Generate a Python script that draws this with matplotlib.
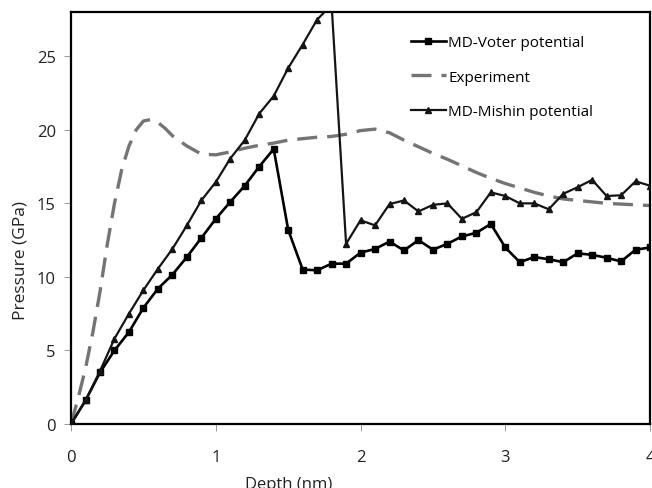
import numpy as np
import matplotlib
matplotlib.use('Agg')
import matplotlib.pyplot as plt

plt.rcParams['font.family'] = ['Open Sans', 'DejaVu Sans']

# MD-Voter potential (squares), every 0.1 nm
depth_md = np.round(np.arange(0, 4.01, 0.1), 2)
voter = [0.0, 1.6, 3.5, 5.0, 6.25, 7.9, 9.2, 10.15, 11.35, 12.65,
         13.95, 15.1, 16.2, 17.5, 18.7, 13.2, 10.5, 10.45, 10.9, 10.9,
         11.65, 11.9, 12.4, 11.8, 12.5, 11.85, 12.25, 12.75, 13.0, 13.6,
         12.0, 11.0, 11.35, 11.2, 11.0, 11.6, 11.5, 11.3, 11.05, 11.85,
         12.0]

# MD-Mishin potential (triangles)
mishin = [0.0, 1.6, 3.6, 5.8, 7.5, 9.1, 10.55, 11.9, 13.5, 15.2,
          16.45, 18.05, 19.3, 21.1, 22.3, 24.2, 25.8, 27.5, 28.5, 12.25,
          13.85, 13.5, 14.95, 15.2, 14.45, 14.9, 15.0, 13.95, 14.4, 15.75,
          15.5, 15.0, 15.0, 14.6, 15.65, 16.1, 16.6, 15.5, 15.55, 16.5,
          16.2]

# Experiment (dashed)
depth_exp = [0.0, 0.05, 0.1, 0.15, 0.2, 0.25, 0.3, 0.35, 0.4, 0.45,
             0.5, 0.55, 0.6, 0.65, 0.7, 0.8, 0.9, 1.0, 1.1, 1.2,
             1.3, 1.4, 1.5, 1.6, 1.7, 1.8, 1.9, 2.0, 2.1, 2.2,
             2.3, 2.4, 2.5, 2.6, 2.7, 2.8, 2.9, 3.0, 3.1, 3.2,
             3.3, 3.4, 3.5, 3.6, 3.7, 3.8, 3.9, 4.0]
experiment = [0.0, 1.8, 3.8, 6.2, 9.0, 12.2, 15.0, 17.3, 18.9, 20.0,
              20.6, 20.7, 20.5, 20.1, 19.6, 18.9, 18.35, 18.3, 18.5, 18.75,
              18.95, 19.1, 19.3, 19.4, 19.5, 19.55, 19.7, 19.95, 20.05, 19.8,
              19.3, 18.85, 18.4, 18.0, 17.55, 17.1, 16.7, 16.35, 16.05, 15.75,
              15.5, 15.3, 15.2, 15.1, 15.0, 14.95, 14.9, 14.85]

fig = plt.figure(figsize=(6.52, 4.89), dpi=100)
ax = fig.add_axes([0.109, 0.131, 0.888, 0.842])

ax.plot(depth_md, voter, color='black', lw=1.9, marker='s', ms=4.5,
        label='MD-Voter potential', zorder=3)
exp_line, = ax.plot(depth_exp, experiment, color='#747474', lw=2.4,
                    label='Experiment', zorder=2)
exp_line.set_dashes((6, 3))
ax.plot(depth_md, mishin, color='#151515', lw=1.6, marker='^', ms=4,
        label='MD-Mishin potential', zorder=3)

ax.set_xlim(0, 4)
ax.set_ylim(0, 28)
ax.set_xticks([0, 1, 2, 3, 4])
ax.set_yticks([0, 5, 10, 15, 20, 25])

for s in ax.spines.values():
    s.set_linewidth(1.6)
    s.set_color('black')

ax.tick_params(axis='both', direction='out', length=5, width=0.6,
               color='#888888', labelsize=12, labelcolor='#222222')
ax.tick_params(axis='x', pad=13)
ax.tick_params(axis='y', pad=6)

ax.set_xlabel('Depth (nm)', fontsize=12, color='#222222')
ax.set_ylabel('Pressure (GPa)', fontsize=12.5, color='#222222')
ax.xaxis.set_label_coords(0.375, -0.126)
ax.yaxis.set_label_coords(-0.074, 0.40)

leg = ax.legend(loc='upper left', bbox_to_anchor=(0.587, 0.944),
                frameon=False, fontsize=11, handlelength=2.3,
                handletextpad=0.15, labelspacing=1.27, borderpad=0,
                borderaxespad=0)

fig.savefig('out.png', dpi=100)
